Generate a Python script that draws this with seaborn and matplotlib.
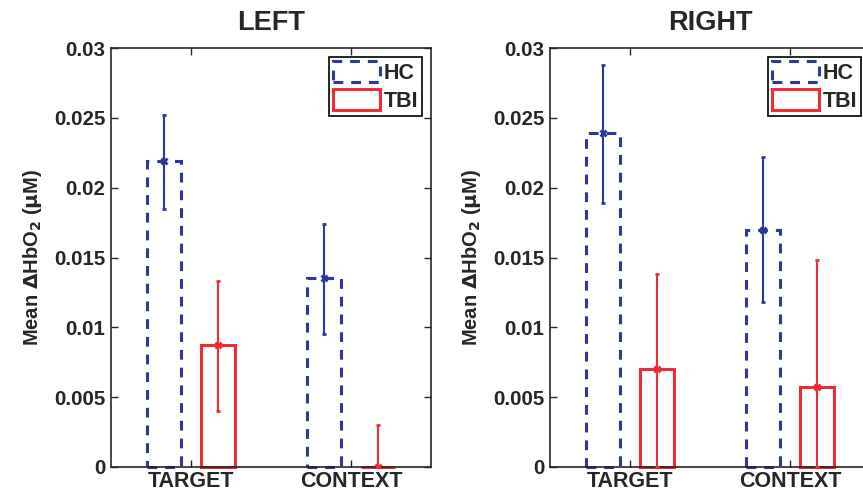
import numpy as np
import pandas as pd
import seaborn as sns
import matplotlib.pyplot as plt
from matplotlib.patches import Patch

conditions = ['TARGET', 'CONTEXT']
groups = ['HC', 'TBI']

# means and error bar ends
left_hc = [0.0219, 0.0135]
left_tbi = [0.0087, 0.0000]
left_hc_lo = [0.0185, 0.0095]
left_hc_hi = [0.0252, 0.0174]
left_tbi_lo = [0.0040, 0.0000]
left_tbi_hi = [0.0133, 0.0030]

right_hc = [0.0239, 0.0170]
right_tbi = [0.0070, 0.0057]
right_hc_lo = [0.0189, 0.0118]
right_hc_hi = [0.0288, 0.0222]
right_tbi_lo = [0.0000, 0.0000]
right_tbi_hi = [0.0138, 0.0148]

blue = '#2B3A9A'
red = '#EE2D36'

sns.set_style('ticks')
plt.rcParams['font.family'] = ['Liberation Sans', 'DejaVu Sans']
plt.rcParams['font.weight'] = 'bold'
plt.rcParams['mathtext.default'] = 'bf'


def panel(ax, title, hc, tbi, hc_lo, hc_hi, tbi_lo, tbi_hi):
    df = pd.DataFrame({
        'cond': conditions * 2,
        'group': ['HC'] * 2 + ['TBI'] * 2,
        'val': hc + tbi,
    })
    sns.barplot(data=df, x='cond', y='val', hue='group', order=conditions,
                hue_order=groups, palette=[blue, red], fill=False,
                width=0.68, gap=0.38, linewidth=2.2, errorbar=None,
                legend=False, ax=ax)
    # seaborn draws bars hue by hue: first HC then TBI
    bars = ax.patches
    lows = hc_lo + tbi_lo
    highs = hc_hi + tbi_hi
    vals = hc + tbi
    for i, b in enumerate(bars):
        col = blue if i < 2 else red
        b.set_edgecolor(col)
        b.set_clip_on(False)
        if i < 2:
            b.set_linestyle((0, (3.2, 2.6)))
        xc = b.get_x() + b.get_width() / 2
        ax.errorbar(xc, vals[i], yerr=[[vals[i] - lows[i]], [highs[i] - vals[i]]],
                    color=col, lw=1.5, capsize=1.5, capthick=1.5, marker='x',
                    ms=4, mew=2, zorder=3)
    ax.set_xlim(-0.5, 1.5)
    ax.set_ylim(0, 0.03)
    ax.set_yticks([0, 0.005, 0.01, 0.015, 0.02, 0.025, 0.03])
    ax.set_yticklabels(['0', '0.005', '0.01', '0.015', '0.02', '0.025', '0.03'])
    ax.tick_params(direction='in', top=True, right=True, length=5, width=1,
                   pad=4)
    ax.tick_params(axis='y', labelsize=14.8)
    ax.tick_params(axis='x', labelsize=15.5, pad=3)
    for lab in ax.get_xticklabels() + ax.get_yticklabels():
        lab.set_fontweight('bold')
    for s in ax.spines.values():
        s.set_linewidth(1.2)
        s.set_visible(True)
    ax.set_xlabel('')
    ax.set_ylabel(r'Mean $\Delta$HbO$_2$ ($\mu$M)', fontsize=14.5,
                  fontweight='bold', labelpad=7)
    ax.set_title(title, fontsize=19.5, fontweight='bold', pad=13)
    handles = [Patch(facecolor='none', edgecolor=blue, linewidth=2.2, linestyle=(0, (3.2, 2.6))),
               Patch(facecolor='none', edgecolor=red, linewidth=2.2)]
    leg = ax.legend(handles, groups, loc='upper right', fontsize=15.5,
                    frameon=True, fancybox=False, framealpha=1, edgecolor='black',
                    borderpad=0.2, handlelength=2.2, handleheight=1.1,
                    handletextpad=0.15, labelspacing=0.25, borderaxespad=0.4)
    leg.get_frame().set_linewidth(1.2)
    for t in leg.get_texts():
        t.set_fontweight('bold')


fig = plt.figure(figsize=(8.63, 4.93), dpi=100)
ax1 = fig.add_axes([111 / 863, 26 / 493, 320 / 863, 419 / 493])
ax2 = fig.add_axes([550 / 863, 26 / 493, 320 / 863, 419 / 493])

panel(ax1, 'LEFT', left_hc, left_tbi, left_hc_lo, left_hc_hi, left_tbi_lo, left_tbi_hi)
panel(ax2, 'RIGHT', right_hc, right_tbi, right_hc_lo, right_hc_hi, right_tbi_lo, right_tbi_hi)

fig.savefig('out.png', dpi=100)
